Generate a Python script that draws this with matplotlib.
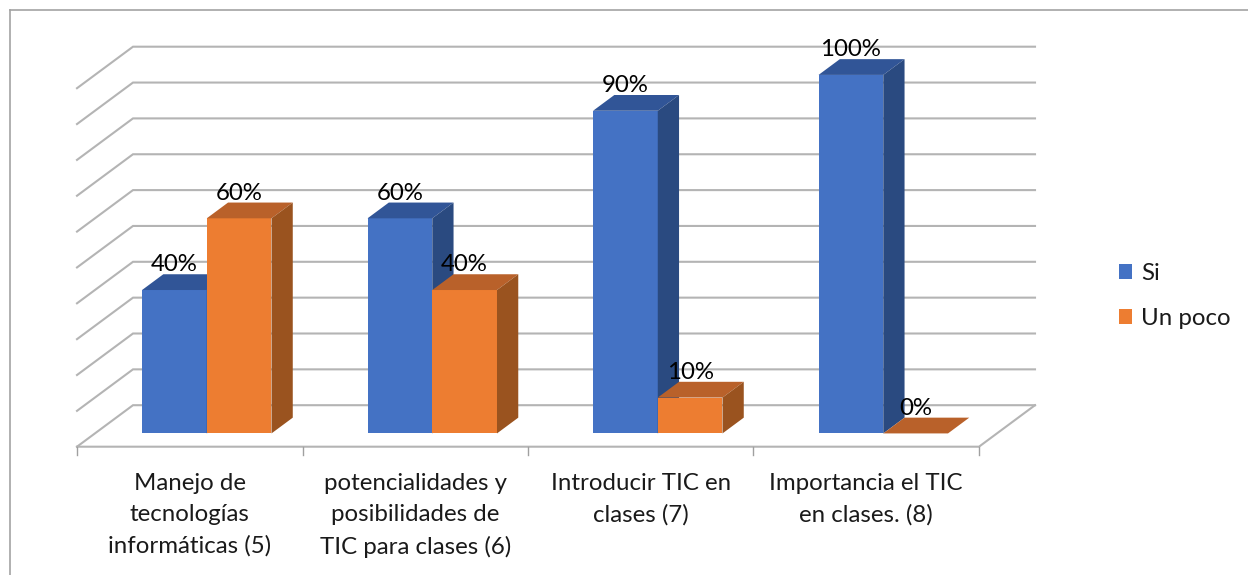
import matplotlib
matplotlib.use("Agg")
import matplotlib.pyplot as plt
from matplotlib.patches import Patch, Polygon

categories = [
    "Manejo de\ntecnologías\ninformáticas (5)",
    "potencialidades y\nposibilidades de\nTIC para clases (6)",
    "Introducir TIC en\nclases (7)",
    "Importancia el TIC\nen clases. (8)",
]
si = [40, 60, 90, 100]
un_poco = [60, 40, 10, 0]
grid_values = list(range(0, 101, 10))

W, H = 1248, 575
# pixels per category / per percent, floor front-left corner in pixels
px_cat, px_pct = 225.5, 3.585
x0_px, y0_px = 77, 446.7
# oblique projection: full floor depth expressed in data units
DX = 56 / px_cat
DY = 41.5 / px_pct
bar_w = 0.287
d_front, d_back = 0.32, 0.70
grid_col = "#B4B4B4"
fs = 17.3

plt.rcParams["font.family"] = ["Lato", "DejaVu Sans"]

fig = plt.figure(figsize=(W / 100, H / 100), dpi=100)
ax = fig.add_axes([0, 0, 1, 1])
ax.set_xlim(-x0_px / px_cat, (W - x0_px) / px_cat)
ax.set_ylim((y0_px - H) / px_pct, y0_px / px_pct)
ax.axis("off")

# chart frame, only the top and left edges fall inside the canvas
ax.plot([(9.5 - x0_px) / px_cat, (W - x0_px) / px_cat], [(y0_px - 10.5) / px_pct] * 2,
        color="#A3A3A3", lw=1.2, zorder=1)
ax.plot([(9.5 - x0_px) / px_cat] * 2, [(y0_px - H) / px_pct, (y0_px - 10.5) / px_pct],
        color="#A3A3A3", lw=1.2, zorder=1)

n = len(categories)

# back wall gridlines with the slanted part on the side wall
for v in grid_values:
    ax.plot([0, DX, n + DX], [v, v + DY, v + DY], color=grid_col, lw=1.5, zorder=2,
            solid_joinstyle="miter")

# floor edges and category ticks
ax.plot([0, n, n + DX], [0, 0, DY], color=grid_col, lw=1.5, zorder=2)
for i in range(n + 1):
    ax.plot([i, i], [0, -2.4], color="#A0A0A0", lw=1.0, zorder=2)


def draw_bar(x, v, col_front, col_top, col_side):
    xa, xb = x, x + bar_w
    dd = d_back - d_front
    x1, x2 = xa + d_front * DX, xb + d_front * DX
    y1, y2 = d_front * DY, v + d_front * DY
    sx, sy = dd * DX, dd * DY
    ax.add_patch(Polygon([(x1, y1), (x2, y1), (x2, y2), (x1, y2)], fc=col_front, ec="none", zorder=3))
    ax.add_patch(Polygon([(x1, y2), (x2, y2), (x2 + sx, y2 + sy), (x1 + sx, y2 + sy)], fc=col_top, ec="none", zorder=3))
    ax.add_patch(Polygon([(x2, y1), (x2 + sx, y1 + sy), (x2 + sx, y2 + sy), (x2, y2)], fc=col_side, ec="none", zorder=3))
    ax.text((x1 + x2) / 2, y2 + 7.0, f"{v}%", ha="center", va="center", fontsize=fs, color="black", zorder=5)


for i in range(n):
    start = i + 0.5 - bar_w - 0.004
    draw_bar(start, si[i], "#4472C4", "#315597", "#2A4A80")
    draw_bar(start + bar_w, un_poco[i], "#ED7D31", "#B9612A", "#9A531F")
    ax.text(i + 0.5, (y0_px - 472.5) / px_pct, categories[i], ha="center", va="top",
            fontsize=fs, linespacing=1.6, color="#1A1A1A", zorder=5)

handles = [Patch(fc="#4472C4", label="Si"), Patch(fc="#ED7D31", label="Un poco")]
fig.legend(handles=handles, loc="center left", bbox_to_anchor=(1119 / W, 1 - 296 / H), frameon=False,
           fontsize=fs, handlelength=0.56, handleheight=0.56, handletextpad=0.35,
           labelspacing=1.0, borderpad=0, borderaxespad=0, labelcolor="#1A1A1A")

fig.savefig("out.png", dpi=100)
